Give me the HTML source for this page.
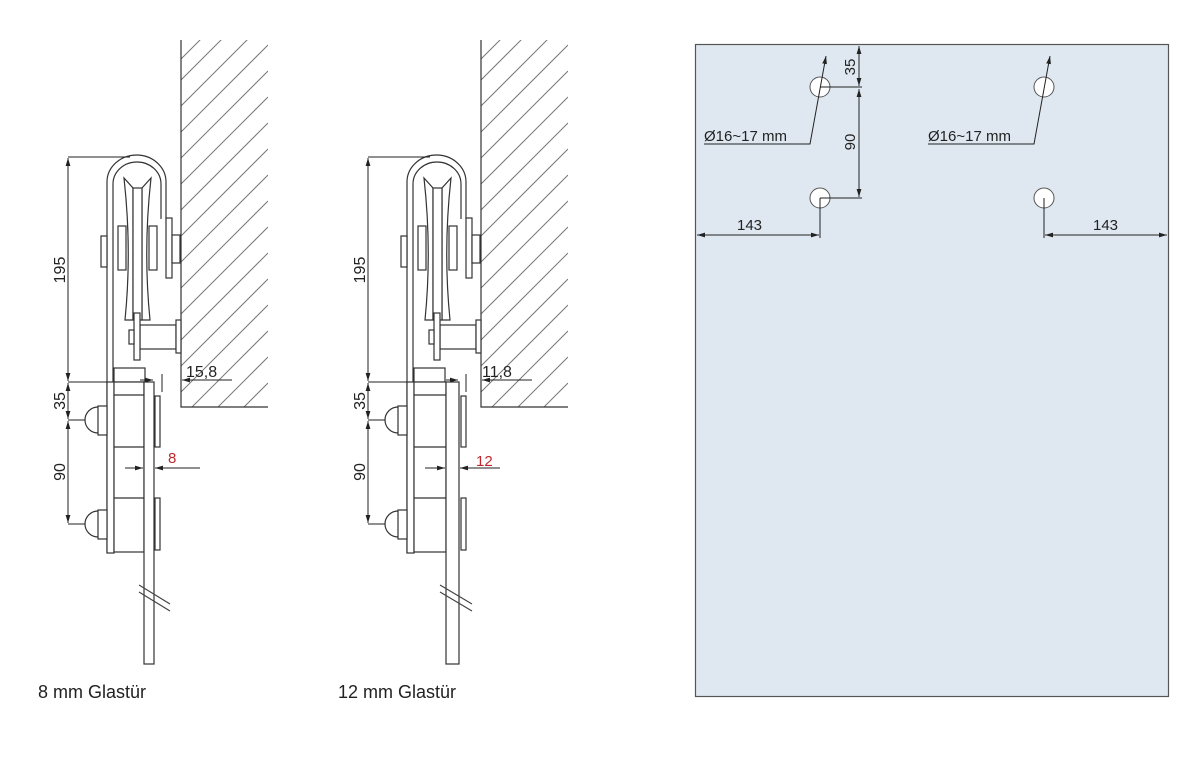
<!DOCTYPE html>
<html><head><meta charset="utf-8"><style>
html,body{margin:0;padding:0;background:#fff;width:1200px;height:777px;overflow:hidden}
svg{display:block}
text{font-family:"Liberation Sans","DejaVu Sans",sans-serif}
</style></head><body>
<svg width="1200" height="777" viewBox="0 0 1200 777" xmlns="http://www.w3.org/2000/svg">
<defs>
<marker id="a" viewBox="0 0 10 6" refX="10" refY="3" markerWidth="8" markerHeight="5" orient="auto-start-reverse"><path d="M0,0 L10,3 L0,6 z" fill="#222"/></marker>
<clipPath id="w1"><rect x="181" y="40" width="87" height="367"/></clipPath>
<clipPath id="w2"><rect x="481" y="40" width="87" height="367"/></clipPath>
<g id="hatch" stroke="#777" stroke-width="1">
<path d="M181,80 L268,-7 M181,106 L268,19 M181,132 L268,45 M181,158 L268,71 M181,184 L268,97 M181,210 L268,123 M181,236 L268,149 M181,262 L268,175 M181,288 L268,201 M181,314 L268,227 M181,340 L268,253 M181,366 L268,279 M181,392 L268,305 M181,418 L268,331 M181,444 L268,357 M181,470 L268,383 M181,496 L268,409 M160,80 L268,-28"/>
</g>
<g id="hanger" fill="none" stroke="#333" stroke-width="1.2">
<path d="M181,40 L181,407 L268,407" />
<path d="M107,553 L107,182 A29.5,27 0 0 1 166,182 L166,219"/>
<path d="M113,382 L113,184 A24,22 0 0 1 161,184 L161,219"/>
<path d="M124,178 Q132,250 125,320 L133,320 L133,188 Z M151,178 Q143,250 150,320 L142,320 L142,188 Z" fill="#fff"/>
<rect x="133" y="188" width="9" height="132" fill="#fff"/>
<rect x="118" y="226" width="8" height="44" fill="#fff"/>
<rect x="149" y="226" width="8" height="44" fill="#fff"/>
<rect x="101" y="236" width="6" height="31" fill="#fff"/>
<rect x="166" y="218" width="6" height="60" fill="#fff"/>
<rect x="172" y="235" width="8" height="28" fill="#fff"/>
<rect x="140" y="325" width="36" height="24" fill="#fff"/>
<rect x="134" y="313" width="6" height="47" fill="#fff"/>
<rect x="129" y="330" width="5" height="14" fill="#fff"/>
<rect x="176" y="320" width="5" height="33" fill="#fff"/>
<rect x="114" y="368" width="31" height="14" fill="#fff"/>
<rect x="107" y="382" width="7" height="171" fill="#fff"/>
<rect x="98" y="406" width="9" height="29" fill="#fff"/>
<path d="M98,407 A13,13 0 0 0 98,433"/>
<rect x="98" y="510" width="9" height="29" fill="#fff"/>
<path d="M98,511 A13,13 0 0 0 98,537"/>
</g>
<g id="dims" fill="none" stroke="#222" stroke-width="1">
<path d="M68,157 L130,157 M68,382 L107,382 M68,420 L85,420 M68,524 L85,524"/>
<path d="M68,158 L68,381" marker-start="url(#a)" marker-end="url(#a)"/>
<path d="M68,383 L68,419" marker-start="url(#a)" marker-end="url(#a)"/>
<path d="M68,421 L68,523" marker-start="url(#a)" marker-end="url(#a)"/>
</g>
</defs>

<!-- drawing 1 -->
<g clip-path="url(#w1)"><use href="#hatch"/></g>
<use href="#hanger"/><use href="#dims"/>
<g fill="none" stroke="#333" stroke-width="1.2">
<rect x="114" y="382" width="30" height="170" fill="#fff"/>
<path d="M114,395 L144,395 M114,447 L144,447 M114,498 L144,498"/>
<rect x="144" y="382" width="10" height="282" fill="#fff"/>
<rect x="155" y="396" width="5" height="51"/>
<rect x="155" y="498" width="5" height="52"/>
<path d="M139,585 L170,604 M139,592 L170,611" stroke="#444"/>
</g>
<g fill="none" stroke="#222" stroke-width="1">
<path d="M162,374 L162,392"/>
<path d="M140,380 L153,380" marker-end="url(#a)"/>
<path d="M232,380 L182,380" marker-end="url(#a)"/>
<path d="M125,468 L143,468" marker-end="url(#a)"/>
<path d="M200,468 L155,468" marker-end="url(#a)"/>
</g>
<text x="186" y="377" font-size="16" fill="#222">15,8</text>
<text x="168" y="463" font-size="15" fill="#c0282f">8</text>
<text transform="translate(65,270) rotate(-90)" font-size="16" fill="#222" text-anchor="middle">195</text>
<text transform="translate(65,401) rotate(-90)" font-size="16" fill="#222" text-anchor="middle">35</text>
<text transform="translate(65,472) rotate(-90)" font-size="16" fill="#222" text-anchor="middle">90</text>
<text x="38" y="698" font-size="18" fill="#222">8 mm Glastür</text>

<!-- drawing 2 -->
<g transform="translate(300,0)">
<g clip-path="url(#w1)"><use href="#hatch"/></g>
<use href="#hanger"/><use href="#dims"/>
<g fill="none" stroke="#333" stroke-width="1.2">
<rect x="114" y="382" width="32" height="170" fill="#fff"/>
<path d="M114,395 L146,395 M114,447 L146,447 M114,498 L146,498"/>
<rect x="146" y="382" width="13" height="282" fill="#fff"/>
<rect x="161" y="396" width="5" height="51"/>
<rect x="161" y="498" width="5" height="52"/>
<path d="M140,585 L172,604 M140,592 L172,611" stroke="#444"/>
</g>
<g fill="none" stroke="#222" stroke-width="1">
<path d="M166,374 L166,392"/>
<path d="M146,380 L158,380" marker-end="url(#a)"/>
<path d="M232,380 L182,380" marker-end="url(#a)"/>
<path d="M125,468 L145,468" marker-end="url(#a)"/>
<path d="M200,468 L160,468" marker-end="url(#a)"/>
</g>
<text x="182" y="377" font-size="16" fill="#222">11,8</text>
<text x="176" y="466" font-size="15" fill="#c0282f">12</text>
<text transform="translate(65,270) rotate(-90)" font-size="16" fill="#222" text-anchor="middle">195</text>
<text transform="translate(65,401) rotate(-90)" font-size="16" fill="#222" text-anchor="middle">35</text>
<text transform="translate(65,472) rotate(-90)" font-size="16" fill="#222" text-anchor="middle">90</text>
<text x="38" y="698" font-size="18" fill="#222">12 mm Glastür</text>
</g>

<!-- right panel -->
<rect x="695.5" y="44.5" width="473" height="652" fill="#dfe8f1" stroke="#555" stroke-width="1.2"/>
<g fill="#fff" stroke="#555" stroke-width="1">
<circle cx="820" cy="87" r="10"/><circle cx="820" cy="198" r="10"/>
<circle cx="1044" cy="87" r="10"/><circle cx="1044" cy="198" r="10"/>
</g>
<g fill="none" stroke="#222" stroke-width="1">
<path d="M820,87 L862,87 M820,198 L862,198 M820,198 L820,238 M1044,198 L1044,238"/>
<path d="M859,46 L859,86" marker-start="url(#a)" marker-end="url(#a)"/>
<path d="M859,89 L859,197" marker-start="url(#a)" marker-end="url(#a)"/>
<path d="M697,235 L819,235" marker-start="url(#a)" marker-end="url(#a)"/>
<path d="M1045,235 L1167,235" marker-start="url(#a)" marker-end="url(#a)"/>
<path d="M704,144 L810,144 L826,56" marker-end="url(#a)"/>
<path d="M928,144 L1034,144 L1050,56" marker-end="url(#a)"/>
</g>
<text x="704" y="141" font-size="15" fill="#222">Ø16~17 mm</text>
<text x="928" y="141" font-size="15" fill="#222">Ø16~17 mm</text>
<text x="737" y="230" font-size="15" fill="#222">143</text>
<text x="1093" y="230" font-size="15" fill="#222">143</text>
<text transform="translate(855,67) rotate(-90)" font-size="15" fill="#222" text-anchor="middle">35</text>
<text transform="translate(855,142) rotate(-90)" font-size="15" fill="#222" text-anchor="middle">90</text>
</svg>
</body></html>
